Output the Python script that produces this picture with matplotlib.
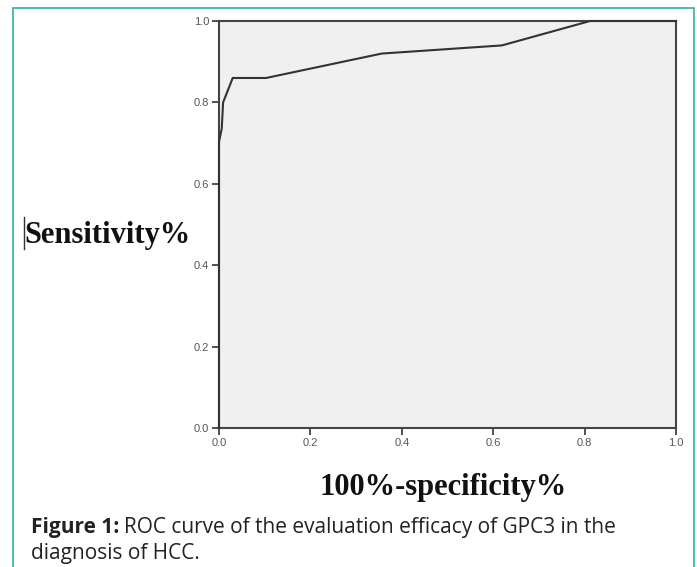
import matplotlib
matplotlib.use("Agg")
import matplotlib.pyplot as plt
from matplotlib.patches import Rectangle
from matplotlib.lines import Line2D

# ROC curve data
fpr = [0.0, 0.0, 0.006, 0.009, 0.030, 0.103, 0.356, 0.619, 0.812, 1.0]
tpr = [0.0, 0.703, 0.736, 0.800, 0.860, 0.860, 0.920, 0.940, 1.000, 1.0]
xticks = [0.0, 0.2, 0.4, 0.6, 0.8, 1.0]
yticks = [0.0, 0.2, 0.4, 0.6, 0.8, 1.0]
tick_labels = ["0.0", "0.2", "0.4", "0.6", "0.8", "1.0"]

W, H = 697, 567
fig = plt.figure(figsize=(W / 100, H / 100), dpi=100)
fig.patch.set_facecolor("white")

# teal frame around the figure panel
frame = Rectangle((13 / W, -0.05), (694 - 13) / W, 1.05 - 7.5 / H,
                  transform=fig.transFigure, fill=False,
                  edgecolor="#3bb8a6", linewidth=1.3, clip_on=False)
fig.add_artist(frame)

left, right, top, bottom = 219, 676, 21, 428
ax = fig.add_axes([left / W, 1 - bottom / H, (right - left) / W, (bottom - top) / H])
ax.set_facecolor("#f0f0f0")
ax.plot(fpr, tpr, color="#333333", linewidth=1.5, solid_joinstyle="miter", clip_on=False, zorder=3)
ax.set_xlim(0, 1)
ax.set_ylim(0, 1)
ax.set_xticks(xticks)
ax.set_yticks(yticks)
ax.set_xticklabels(tick_labels)
ax.set_yticklabels(tick_labels)
for s in ax.spines.values():
    s.set_color("#444444")
    s.set_linewidth(1.5)
ax.tick_params(axis="both", colors="#444444", length=5, width=1.3,
               labelsize=8, labelcolor="#555555", pad=2)
for lab in ax.get_xticklabels() + ax.get_yticklabels():
    lab.set_family("Liberation Sans")

# axis titles
fig.text(24 / W, 1 - 236 / H, "Sensitivity%", family="Liberation Serif",
         fontweight="bold", fontsize=22, ha="left", va="center", color="#111111")
fig.add_artist(Line2D([23.5 / W, 23.5 / W], [1 - 217 / H, 1 - 249 / H],
                      transform=fig.transFigure, color="#333333", linewidth=1))
fig.text(443 / W, 1 - 488 / H, "100%-specificity%", family="Liberation Serif",
         fontweight="bold", fontsize=22, ha="center", va="center", color="#111111")

# caption
x0 = 31 / W
cap_y1 = 1 - 533 / H
t1 = fig.text(x0, cap_y1, "Figure 1:", family="Open Sans", fontweight="bold",
              fontsize=15, ha="left", va="baseline", color="#222222")
fig.canvas.draw()
bb = t1.get_window_extent()
fig.text((bb.x1 + 5) / W, cap_y1, "ROC curve of the evaluation efficacy of GPC3 in the",
         family="Open Sans", fontsize=15, ha="left", va="baseline", color="#222222")
fig.text(x0, 1 - 559 / H, "diagnosis of HCC.", family="Open Sans",
         fontsize=15, ha="left", va="baseline", color="#222222")

fig.savefig("out.png", dpi=100)
